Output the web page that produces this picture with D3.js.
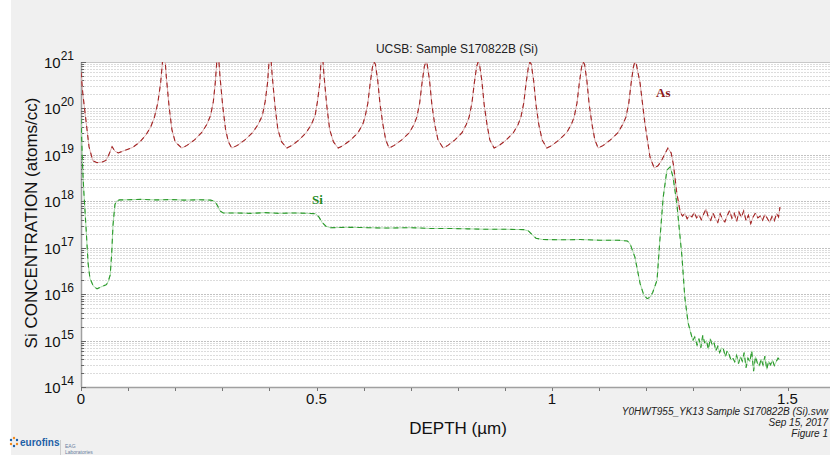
<!DOCTYPE html>
<html>
<head>
<meta charset="utf-8">
<script src="https://cdn.jsdelivr.net/npm/d3@7"></script>
<style>
  body { margin: 0; background: #fff; }
  svg { display: block; font-family: "Liberation Sans", Arial, sans-serif; }
</style>
</head>
<body>
<svg id="chart" width="830" height="455"></svg>
<script>
// ---- data (depth in um, concentration in atoms/cc) ----
const asProfile = [
  [0.000, 6e20], [0.004, 2e20], [0.011, 5e19], [0.017, 1.5e19], [0.025, 7.5e18], [0.034, 6.8e18],
  [0.045, 7.0e18], [0.053, 7.6e18], [0.059, 1.0e19], [0.066, 1.5e19], [0.072, 1.2e19], [0.079, 1.1e19],
  [0.093, 1.25e19], [0.110, 1.45e19], [0.125, 1.9e19], [0.138, 2.7e19], [0.148, 4e19], [0.156, 6.5e19],
  [0.163, 1.3e20], [0.169, 3.5e20], [0.174, 1.3e21], [0.178, 1.3e21], [0.181, 5e20], [0.187, 1.1e20],
  [0.193, 3.5e19], [0.200, 1.9e19], [0.214, 1.4e19],
  [0.225, 1.6e19], [0.241, 2.1e19], [0.256, 3.0e19], [0.267, 4.5e19], [0.275, 7e19], [0.281, 1.4e20],
  [0.285, 3.5e20], [0.289, 1.3e21], [0.292, 1.3e21], [0.295, 5e20], [0.301, 1.1e20], [0.307, 3.5e19],
  [0.313, 1.9e19], [0.320, 1.4e19],
  [0.332, 1.6e19], [0.348, 2.1e19], [0.364, 3.0e19], [0.376, 4.5e19], [0.385, 7e19], [0.391, 1.4e20],
  [0.396, 3.5e20], [0.400, 1.3e21], [0.403, 1.3e21], [0.406, 5e20], [0.412, 1.1e20], [0.418, 3.5e19],
  [0.426, 1.9e19], [0.437, 1.4e19],
  [0.448, 1.6e19], [0.463, 2.1e19], [0.478, 3.0e19], [0.489, 4.5e19], [0.497, 7e19], [0.502, 1.4e20],
  [0.507, 3.5e20], [0.510, 1.3e21], [0.513, 1.3e21], [0.516, 5e20], [0.522, 1.1e20], [0.528, 3.5e19],
  [0.536, 1.9e19], [0.546, 1.4e19],
  [0.557, 1.6e19], [0.573, 2.1e19], [0.588, 3.0e19], [0.598, 4.5e19], [0.603, 6.5e19], [0.609, 1.3e20],
  [0.614, 3.5e20], [0.619, 8e20], [0.622, 1.0e21], [0.625, 9e20], [0.630, 4e20], [0.635, 1.2e20],
  [0.641, 4.5e19], [0.647, 2.1e19], [0.654, 1.4e19],
  [0.665, 1.6e19], [0.681, 2.1e19], [0.697, 3.0e19], [0.707, 4.5e19], [0.713, 6.5e19], [0.719, 1.3e20],
  [0.724, 3.5e20], [0.729, 8e20], [0.732, 1.0e21], [0.735, 9e20], [0.740, 4e20], [0.745, 1.2e20],
  [0.751, 4.5e19], [0.758, 2.1e19], [0.769, 1.4e19],
  [0.779, 1.6e19], [0.794, 2.1e19], [0.809, 3.0e19], [0.818, 4.5e19], [0.824, 6.5e19], [0.830, 1.3e20],
  [0.835, 3.5e20], [0.840, 8e20], [0.843, 1.0e21], [0.846, 9e20], [0.851, 4e20], [0.856, 1.2e20],
  [0.862, 4.5e19], [0.868, 2.1e19], [0.877, 1.4e19],
  [0.888, 1.6e19], [0.903, 2.1e19], [0.918, 3.0e19], [0.928, 4.5e19], [0.934, 6.5e19], [0.940, 1.3e20],
  [0.945, 3.5e20], [0.950, 8e20], [0.953, 1.0e21], [0.956, 9e20], [0.961, 4e20], [0.966, 1.2e20],
  [0.972, 4.5e19], [0.979, 2.1e19], [0.989, 1.4e19],
  [1.000, 1.6e19], [1.015, 2.1e19], [1.031, 3.0e19], [1.041, 4.5e19], [1.047, 6.5e19], [1.053, 1.3e20],
  [1.058, 3.5e20], [1.063, 8e20], [1.066, 1.0e21], [1.069, 9e20], [1.074, 4e20], [1.079, 1.2e20],
  [1.085, 4.5e19], [1.091, 2.1e19], [1.098, 1.4e19],
  [1.109, 1.6e19], [1.124, 2.1e19], [1.140, 3.0e19], [1.150, 4.5e19], [1.157, 6.5e19], [1.163, 1.3e20],
  [1.168, 3.5e20], [1.173, 8e20], [1.176, 1.0e21], [1.179, 9e20], [1.187, 3.5e20], [1.197, 5e19],
  [1.208, 9e18], [1.217, 5.2e18], [1.225, 5.8e18], [1.233, 7.7e18], [1.246, 1.4e19], [1.253, 1.1e19],
  [1.258, 6e18], [1.265, 1.5e18], [1.272, 6e17],
  [1.277, 4.8e17], [1.282, 5.5e17], [1.287, 4.2e17], [1.292, 5.0e17], [1.297, 4.6e17], [1.302, 5.8e17],
  [1.307, 4.4e17], [1.312, 5.1e17], [1.317, 4.0e17], [1.322, 5.3e17], [1.327, 6.8e17], [1.332, 4.5e17],
  [1.337, 3.9e17], [1.342, 5.6e17], [1.347, 4.2e17], [1.352, 3.5e17], [1.357, 5.4e17], [1.362, 4.1e17],
  [1.367, 3.6e17], [1.372, 4.9e17], [1.377, 6.3e17], [1.382, 4.3e17], [1.387, 5.5e17], [1.392, 3.7e17],
  [1.397, 5.9e17], [1.402, 4.5e17], [1.407, 6.2e17], [1.412, 3.8e17], [1.417, 5.0e17], [1.422, 3.3e17],
  [1.427, 4.6e17], [1.432, 5.6e17], [1.437, 4.4e17], [1.442, 4.8e17], [1.447, 3.9e17], [1.452, 5.2e17],
  [1.457, 4.3e17], [1.462, 3.5e17], [1.467, 4.7e17], [1.472, 3.8e17], [1.477, 5.5e17], [1.481, 4.6e17],
  [1.484, 7.5e17]
];

const siProfile = [
  [0.000, 6e19], [0.002, 1.5e19], [0.004, 4e18], [0.006, 1.6e18], [0.011, 2.4e17], [0.015, 4.7e16],
  [0.019, 2.2e16], [0.026, 1.5e16], [0.034, 1.3e16], [0.041, 1.4e16], [0.047, 1.5e16], [0.054, 1.6e16],
  [0.058, 1.9e16], [0.062, 2.6e16], [0.065, 7e16], [0.068, 3.1e17], [0.072, 8.5e17], [0.076, 1.02e18],
  [0.082, 1.07e18], [0.100, 1.08e18], [0.130, 1.1e18], [0.160, 1.07e18], [0.190, 1.09e18], [0.220, 1.06e18],
  [0.250, 1.08e18], [0.275, 1.06e18], [0.284, 1.0e18], [0.290, 8e17], [0.295, 6.2e17], [0.302, 5.6e17],
  [0.330, 5.6e17], [0.360, 5.5e17], [0.390, 5.7e17], [0.420, 5.5e17], [0.450, 5.6e17], [0.480, 5.5e17],
  [0.498, 5.4e17], [0.505, 4.6e17], [0.512, 3.5e17], [0.520, 2.9e17], [0.530, 2.7e17], [0.570, 2.75e17],
  [0.610, 2.7e17], [0.650, 2.65e17], [0.700, 2.7e17], [0.740, 2.6e17], [0.780, 2.6e17], [0.820, 2.55e17],
  [0.860, 2.5e17], [0.900, 2.5e17], [0.940, 2.45e17], [0.950, 2.3e17], [0.958, 1.9e17], [0.966, 1.6e17],
  [0.980, 1.5e17], [1.020, 1.48e17], [1.060, 1.5e17], [1.100, 1.45e17], [1.140, 1.45e17], [1.160, 1.4e17],
  [1.166, 1.2e17], [1.176, 6.3e16], [1.187, 1.7e16], [1.195, 9.5e15], [1.202, 8e15], [1.208, 8.5e15],
  [1.214, 1.1e16], [1.223, 2e16], [1.229, 1.45e17], [1.236, 1.2e18], [1.244, 4.7e18], [1.251, 5.5e18],
  [1.257, 3.3e18], [1.265, 9e17], [1.276, 6.3e16], [1.282, 8.5e15], [1.289, 2.4e15], [1.299, 1.0e15],
  [1.303, 1.2e15], [1.308, 8e14], [1.312, 1.1e15], [1.316, 7e14], [1.320, 1.3e15], [1.324, 9e14],
  [1.328, 1.0e15], [1.332, 6.5e14], [1.336, 1.1e15], [1.340, 8e14], [1.344, 9e14], [1.348, 6e14],
  [1.352, 7.5e14], [1.356, 5.5e14], [1.360, 7e14], [1.364, 6.5e14], [1.368, 4.5e14], [1.372, 6e14],
  [1.376, 5e14], [1.380, 3.8e14], [1.384, 4.2e14], [1.388, 3.5e14], [1.392, 4.8e14], [1.396, 3.2e14],
  [1.400, 4.5e14], [1.404, 3.6e14], [1.408, 5.5e14], [1.412, 2.6e14], [1.416, 4.2e14], [1.420, 3.5e14],
  [1.424, 6e14], [1.428, 2.2e14], [1.432, 4.5e14], [1.436, 3.3e14], [1.440, 2.8e14], [1.444, 4.0e14],
  [1.448, 3.0e14], [1.452, 4.6e14], [1.456, 2.4e14], [1.460, 3.6e14], [1.464, 3.0e14], [1.468, 3.8e14],
  [1.472, 2.9e14], [1.476, 3.5e14], [1.480, 4.2e14], [1.484, 3.8e14]
];

const xTickLabels = [0, 0.5, 1, 1.5];
const decades = [14, 15, 16, 17, 18, 19, 20, 21];
const fileInfo = ["Y0HWT955_YK13 Sample S170822B (Si).svw", "Sep 15, 2017", "Figure 1"];

// ---- layout ----
const svg = d3.select("#chart");
const W = 830, H = 455;
const plotLeft = 81, plotTop = 62, plotBottom = 387;

const x = d3.scaleLinear().domain([0, 1.6]).range([plotLeft, plotLeft + 1.6 * 471]);
const y = d3.scaleLog().domain([1e14, 1e21]).range([plotBottom, plotTop]);

// background panels
svg.append("rect").attr("width", W).attr("height", H).attr("fill", "#fff");
svg.append("rect").attr("x", 11).attr("width", W - 11).attr("height", H).attr("fill", "#f0f0f0");
svg.append("rect").attr("x", plotLeft).attr("y", plotTop)
  .attr("width", W - plotLeft).attr("height", plotBottom - plotTop).attr("fill", "#fff");

// clip for plot marks
svg.append("defs").append("clipPath").attr("id", "plotclip")
  .append("rect").attr("x", plotLeft).attr("y", plotTop)
  .attr("width", W - plotLeft).attr("height", plotBottom - plotTop);

// horizontal grid (every 1..9 x decade)
const gridVals = [];
decades.slice(0, -1).forEach(d => {
  for (let k = 1; k <= 9; k++) gridVals.push(k * Math.pow(10, d));
});
gridVals.push(1e21);
const isDecade = d => Math.abs(Math.log10(d) - Math.round(Math.log10(d))) < 1e-9;

svg.append("g").attr("class", "grid")
  .selectAll("line").data(gridVals).join("line")
  .attr("x1", plotLeft).attr("x2", W)
  .attr("y1", d => Math.round(y(d)) + 0.5).attr("y2", d => Math.round(y(d)) + 0.5)
  .attr("stroke", d => isDecade(d) ? "#c2c2c2" : "#dcdcdc")
  .attr("stroke-dasharray", "2,1");

// frame
svg.append("line").attr("x1", plotLeft).attr("x2", W).attr("y1", plotTop + 0.5).attr("y2", plotTop + 0.5)
  .attr("stroke", "#c8c8c8");
svg.append("line").attr("x1", plotLeft).attr("x2", W).attr("y1", plotBottom + 0.5).attr("y2", plotBottom + 0.5)
  .attr("stroke", "#a0a0a0").attr("stroke-width", 1.5);
svg.append("line").attr("x1", plotLeft + 0.5).attr("x2", plotLeft + 0.5).attr("y1", plotTop).attr("y2", plotBottom)
  .attr("stroke", "#a0a0a0").attr("stroke-width", 1.5);

// y minor/major ticks (inside)
svg.append("g").selectAll("line").data(gridVals).join("line")
  .attr("x1", plotLeft).attr("x2", d => isDecade(d) ? plotLeft + 5 : plotLeft + 3)
  .attr("y1", d => Math.round(y(d)) + 0.5).attr("y2", d => Math.round(y(d)) + 0.5)
  .attr("stroke", "#666");

// x ticks (every 0.1)
const xMinor = d3.range(0, 17).map(i => i / 10);
svg.append("g").selectAll("line").data(xMinor).join("line")
  .attr("x1", d => Math.round(x(d)) + 0.5).attr("x2", d => Math.round(x(d)) + 0.5)
  .attr("y1", plotBottom + 1).attr("y2", plotBottom + 4)
  .attr("stroke", "#777");

// x tick labels
svg.append("g").selectAll("text").data(xTickLabels).join("text")
  .attr("x", d => x(d)).attr("y", 404)
  .attr("text-anchor", "middle").attr("font-size", 15).attr("fill", "#111")
  .text(d => d);

// y tick labels: 10^n
const yl = svg.append("g").selectAll("text").data(decades).join("text")
  .attr("x", 74).attr("y", d => y(Math.pow(10, d)) + 6)
  .attr("text-anchor", "end").attr("fill", "#111");
yl.append("tspan").attr("font-size", 15).text("10");
yl.append("tspan").attr("font-size", 12).attr("dy", -8).text(d => d);

// series
const line = d3.line().x(d => x(d[0])).y(d => y(d[1]));
const plot = svg.append("g").attr("clip-path", "url(#plotclip)");

function drawSeries(data, light, dark) {
  plot.append("path").datum(data).attr("d", line)
    .attr("fill", "none").attr("stroke", light).attr("stroke-width", 1);
  plot.append("path").datum(data).attr("d", line)
    .attr("fill", "none").attr("stroke", dark).attr("stroke-width", 1.1)
    .attr("stroke-dasharray", "5,4");
}
drawSeries(siProfile, "#a9dba9", "#2c9a2c");
drawSeries(asProfile, "#dcb0b0", "#a32525");

// series labels
svg.append("text").attr("x", 656).attr("y", 97)
  .attr("font-family", "'Liberation Serif', 'Times New Roman', serif")
  .attr("font-weight", "bold").attr("font-size", 13).attr("fill", "#8b1a1a").text("As");
svg.append("text").attr("x", 312).attr("y", 204)
  .attr("font-family", "'Liberation Serif', 'Times New Roman', serif")
  .attr("font-weight", "bold").attr("font-size", 13).attr("fill", "#1f8a1f").text("Si");

// titles
svg.append("text").attr("x", 457).attr("y", 53).attr("text-anchor", "middle")
  .attr("font-size", 12).attr("fill", "#222").text("UCSB: Sample S170822B (Si)");
svg.append("text").attr("x", 458).attr("y", 434).attr("text-anchor", "middle")
  .attr("font-size", 17).attr("fill", "#111").text("DEPTH (µm)");
svg.append("text").attr("transform", "translate(37,223) rotate(-90)").attr("text-anchor", "middle")
  .attr("font-size", 17).attr("fill", "#111").text("Si CONCENTRATION (atoms/cc)");

// file info, bottom right (right aligned)
svg.append("g").selectAll("text").data(fileInfo).join("text")
  .attr("x", 828).attr("y", (d, i) => 415 + i * 11)
  .attr("text-anchor", "end")
  .attr("font-size", 10).attr("font-style", "italic").attr("fill", "#222")
  .text(d => d);

// eurofins mark, bottom left
const logo = svg.append("g").attr("transform", "translate(14,442)");
[[0, -4, "#f08a1c"], [3, -2, "#1d5fa6"], [3, 2, "#f08a1c"], [0, 4, "#1d5fa6"], [-3, 2, "#f08a1c"], [-3, -2, "#1d5fa6"]]
  .forEach(p => logo.append("circle").attr("cx", p[0]).attr("cy", p[1]).attr("r", 1.2).attr("fill", p[2]));
svg.append("text").attr("x", 20).attr("y", 446).attr("font-size", 10).attr("font-weight", "bold")
  .attr("fill", "#1d5fa6").text("eurofins");
svg.append("line").attr("x1", 60.5).attr("x2", 60.5).attr("y1", 440).attr("y2", 455).attr("stroke", "#ccc");
svg.append("text").attr("x", 65).attr("y", 448).attr("font-size", 5).attr("fill", "#6a7fa0").text("EAG");
svg.append("text").attr("x", 65).attr("y", 454).attr("font-size", 5).attr("fill", "#6a7fa0").text("Laboratories");
</script>
</body>
</html>
